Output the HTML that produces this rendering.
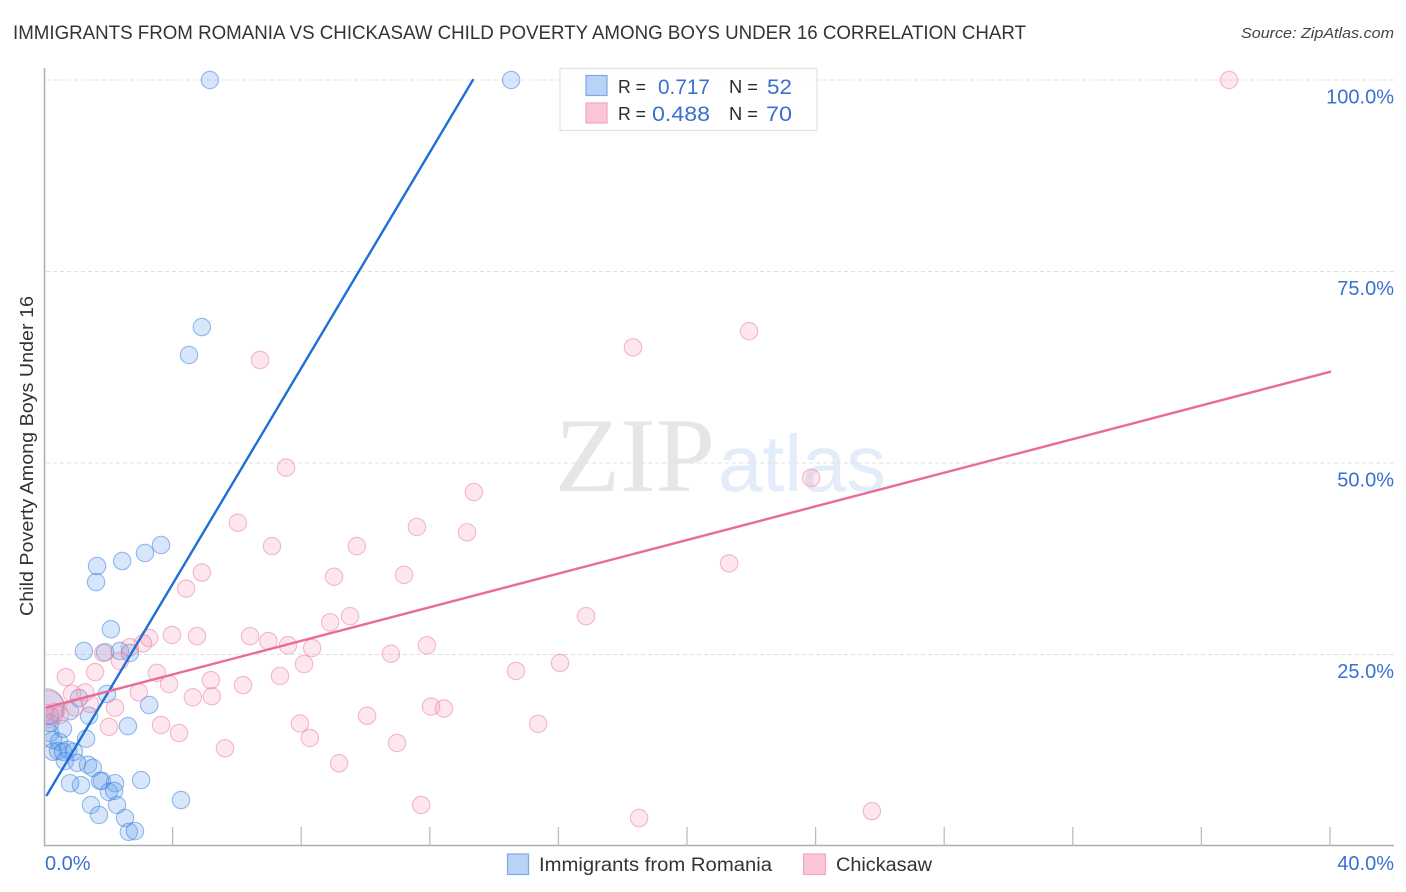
<!DOCTYPE html>
<html lang="en">
<head>
<meta charset="utf-8">
<title>Immigrants from Romania vs Chickasaw Child Poverty Among Boys Under 16 Correlation Chart</title>
<style>
html,body{margin:0;padding:0;background:#fff;width:1406px;height:892px;overflow:hidden}
svg{display:block}
text{font-family:"Liberation Sans",sans-serif}
</style>
</head>
<body>
<svg id="chart" xmlns="http://www.w3.org/2000/svg" width="1406" height="892" viewBox="0 0 1406 892">
  <defs>
    <clipPath id="plot-clip"><rect x="45.5" y="60" width="1350" height="786"/></clipPath>
  </defs>
  <text x="13" y="39" font-size="19" fill="#333" textLength="1013" lengthAdjust="spacingAndGlyphs">IMMIGRANTS FROM ROMANIA VS CHICKASAW CHILD POVERTY AMONG BOYS UNDER 16 CORRELATION CHART</text>
  <text x="1394" y="38" font-size="15" font-style="italic" fill="#444" text-anchor="end" textLength="153" lengthAdjust="spacingAndGlyphs">Source: ZipAtlas.com</text>
  <g>
    <text x="555" y="491" style="font-family:'Liberation Serif',serif" font-size="106" fill="#e6e6e6" textLength="160" lengthAdjust="spacingAndGlyphs">ZIP</text>
    <text x="718" y="491" font-size="80" fill="#e3ecf9" textLength="168" lengthAdjust="spacingAndGlyphs">atlas</text>
  </g>
  <g id="grid"></g>
  <g id="axes"></g>
  <g id="blue-points" clip-path="url(#plot-clip)"></g>
  <g id="pink-points" clip-path="url(#plot-clip)"></g>
  <g id="trends"></g>
  <g id="tick-labels"></g>
  <text transform="translate(33 456) rotate(-90)" font-size="18.5" fill="#333" text-anchor="middle" textLength="320" lengthAdjust="spacingAndGlyphs">Child Poverty Among Boys Under 16</text>

  <g>
    <rect x="560" y="68.5" width="257" height="62" fill="#fff" fill-opacity="0.9" stroke="#e2e2e2" stroke-width="1.2"/>
    <rect x="586" y="75.5" width="21" height="20" fill="#b9d3f6" stroke="#7fa9e2" stroke-width="1.2"/>
    <rect x="586" y="103" width="21" height="20" fill="#fac5d6" stroke="#f3a5bf" stroke-width="1.2"/>
    <text x="618" y="93" font-size="18" fill="#2b2b2b" textLength="28" lengthAdjust="spacingAndGlyphs">R =</text>
    <text x="658" y="94" font-size="21" fill="#3a70d0" textLength="52" lengthAdjust="spacingAndGlyphs">0.717</text>
    <text x="729" y="93" font-size="18" fill="#2b2b2b" textLength="29" lengthAdjust="spacingAndGlyphs">N =</text>
    <text x="767" y="94" font-size="21" fill="#3a70d0" textLength="25" lengthAdjust="spacingAndGlyphs">52</text>
    <text x="618" y="120" font-size="18" fill="#2b2b2b" textLength="28" lengthAdjust="spacingAndGlyphs">R =</text>
    <text x="652" y="121" font-size="21" fill="#3a70d0" textLength="58" lengthAdjust="spacingAndGlyphs">0.488</text>
    <text x="729" y="120" font-size="18" fill="#2b2b2b" textLength="29" lengthAdjust="spacingAndGlyphs">N =</text>
    <text x="766" y="121" font-size="21" fill="#3a70d0" textLength="26" lengthAdjust="spacingAndGlyphs">70</text>
  </g>

  <g>
    <rect x="507.5" y="854" width="21" height="20.5" fill="#b9d3f6" stroke="#7fa9e2" stroke-width="1.2"/>
    <text x="539" y="871" font-size="19" fill="#333" textLength="233" lengthAdjust="spacingAndGlyphs">Immigrants from Romania</text>
    <rect x="803.5" y="854" width="22" height="20.5" fill="#fac5d6" stroke="#f3a5bf" stroke-width="1.2"/>
    <text x="836" y="871" font-size="19" fill="#333" textLength="96" lengthAdjust="spacingAndGlyphs">Chickasaw</text>
  </g>
</svg>
<script>
const xTickValues = [0, 4, 8, 12, 16, 20, 24, 28, 32, 36, 40];
const yTickValues = [25, 50, 75, 100];
const xEndLabels = ["0.0%", "40.0%"];
const yTickLabels = ["25.0%", "50.0%", "75.0%", "100.0%"];

const romaniaX = [5.16,14.53,4.91,4.51,3.64,3.14,2.43,1.65,1.62,2.08,1.24,1.90,2.36,2.67,1.96,1.09,3.27,1.40,0.81,2.61,0.19,0.28,0.47,0.28,0.44,0.59,0.75,0.93,0.65,1.03,1.37,1.52,0.59,1.31,1.15,0.81,1.80,1.74,2.21,3.02,2.02,2.18,4.26,1.46,2.27,1.71,2.52,2.64,2.83,0.09,0.19,0.19];
const romaniaY = [100,100,67.75,64.1,39.3,38.25,37.2,36.55,34.45,28.3,25.45,25.3,25.45,25.2,19.85,19.3,18.4,17.0,17.6,15.65,14.75,13.85,13.6,12.3,12.4,12.3,12.55,12.3,11.1,10.85,10.6,10.2,15.3,14.0,7.95,8.2,8.5,8.5,8.2,8.6,7.05,7.2,6.0,5.35,5.35,4.05,3.65,1.85,1.95,18.15,17.0,16.05];
const romaniaLarge = [0,0,0,0,0,0,0,0,0,0,0,0,0,0,0,0,0,0,0,0,0,0,0,0,0,0,0,0,0,0,0,0,0,0,0,0,0,0,0,0,0,0,0,0,0,0,0,0,0,1,0,0];

const chickasawX = [36.86,21.93,18.32,6.72,7.53,23.86,13.37,6.03,11.6,13.16,7.09,9.73,21.31,4.91,9.02,11.2,4.42,16.86,9.52,8.9,3.98,4.76,3.27,6.41,6.98,7.59,8.34,3.08,2.67,1.84,2.36,11.91,10.79,8.09,0.68,1.59,3.51,14.68,16.05,3.89,6.19,5.19,7.34,2.95,1.28,0.87,4.63,5.22,12.04,12.44,1.43,2.21,7.96,10.05,15.37,3.64,2.02,4.2,8.27,10.98,5.63,9.18,11.73,18.51,25.75,0.03,0.34,0.03,0.96,0.5];
const chickasawY = [100,67.2,65.1,63.45,49.4,48.05,46.2,42.2,41.65,40.95,39.15,39.15,36.9,35.7,35.15,35.4,33.6,30.0,30.0,29.2,27.55,27.4,27.15,27.4,26.75,26.2,25.85,26.45,25.95,25.2,24.15,26.2,25.1,23.75,22.05,22.7,22.6,22.85,23.9,21.15,21.0,21.65,22.2,20.05,20.05,19.9,19.4,19.55,18.2,17.95,18.55,18.05,16.0,17.0,15.95,15.8,15.55,14.75,14.1,13.45,12.75,10.8,5.35,3.65,4.55,18.0,17.5,17.4,18.1,17.1];
const chickasawLarge = [0,0,0,0,0,0,0,0,0,0,0,0,0,0,0,0,0,0,0,0,0,0,0,0,0,0,0,0,0,0,0,0,0,0,0,0,0,0,0,0,0,0,0,0,0,0,0,0,0,0,0,0,0,0,0,0,0,0,0,0,0,0,0,0,0,1,0,0,0,0];

const romaniaTrendX = [0.09, 13.34];
const romaniaTrendY = [6.65, 100];
const chickasawTrendX = [0.09, 40];
const chickasawTrendY = [18.1, 61.9];

function xScale(v) { return 44 + v * 32.15; }
function yScale(v) { return 846 - v * 7.66; }

const NS = "http://www.w3.org/2000/svg";
function make(tag, attrs, parent) {
  const el = document.createElementNS(NS, tag);
  for (const k in attrs) el.setAttribute(k, attrs[k]);
  parent.appendChild(el);
  return el;
}

const grid = document.getElementById("grid");
yTickValues.forEach(function (v) {
  const g = make("line", {x1: 46, x2: 1394, y1: yScale(v), y2: yScale(v), stroke: "#e0e0e0", "stroke-width": 1, "stroke-dasharray": "4 3"}, grid);
  
  
});

const axes = document.getElementById("axes");
const yAxis = make("line", {x1: 44.5, x2: 44.5, y1: 68, y2: 846, stroke: "#aeaeae", "stroke-width": 1.5}, axes);


const xAxis = make("line", {x1: 44, x2: 1394, y1: 845.5, y2: 845.5, stroke: "#aeaeae", "stroke-width": 1.5}, axes);


xTickValues.slice(1).forEach(function (v) {
  const t = make("line", {x1: xScale(v), x2: xScale(v), y1: 827, y2: 846, stroke: "#bdbdbd", "stroke-width": 1.3}, axes);
  
  
});

function drawPoints(parentId, xs, ys, large, bigRadius, fill, stroke, name) {
  const parent = document.getElementById(parentId);
  xs.forEach(function (x, i) {
    const c = make("circle", {cx: xScale(x), cy: yScale(ys[i]), r: large[i] ? bigRadius : 8.7, fill: fill, stroke: stroke, "stroke-width": 1.1}, parent);
    
    
  });
}
drawPoints("blue-points", romaniaX, romaniaY, romaniaLarge, 17, "rgba(96,156,235,0.25)", "rgba(62,126,220,0.52)", "romania-point");
drawPoints("pink-points", chickasawX, chickasawY, chickasawLarge, 20, "rgba(246,150,180,0.24)", "rgba(235,120,155,0.5)", "chickasaw-point");

const trends = document.getElementById("trends");
const blueTrend = make("line", {x1: xScale(romaniaTrendX[0]), y1: yScale(romaniaTrendY[0]), x2: xScale(romaniaTrendX[1]), y2: yScale(romaniaTrendY[1]), stroke: "#1f6fd6", "stroke-width": 2.4, "stroke-linecap": "round"}, trends);


const pinkTrend = make("line", {x1: xScale(chickasawTrendX[0]), y1: yScale(chickasawTrendY[0]), x2: xScale(chickasawTrendX[1]), y2: yScale(chickasawTrendY[1]), stroke: "#ea6a98", "stroke-width": 2.4, "stroke-linecap": "round"}, trends);



const labels = document.getElementById("tick-labels");
yTickValues.forEach(function (v, i) {
  const t = make("text", {x: 1394, y: yScale(v) + 23.5, "font-size": 20, fill: "#3a70d0", "text-anchor": "end"}, labels);
  t.textContent = yTickLabels[i];
  
  
});
const xFirst = make("text", {x: 45, y: 870, "font-size": 20, fill: "#3a70d0"}, labels);
xFirst.textContent = xEndLabels[0];


const xLast = make("text", {x: 1394, y: 870, "font-size": 20, fill: "#3a70d0", "text-anchor": "end"}, labels);
xLast.textContent = xEndLabels[1];


</script>
</body>
</html>
